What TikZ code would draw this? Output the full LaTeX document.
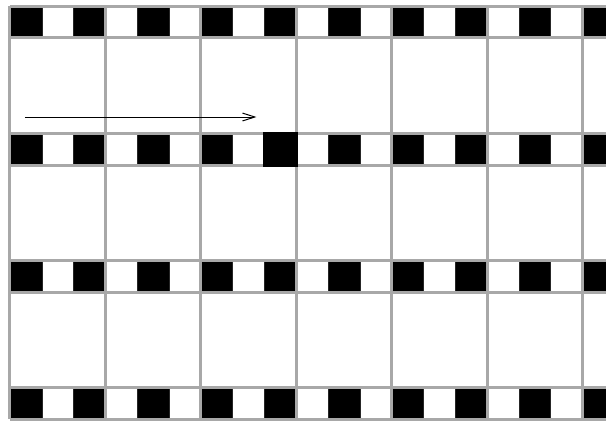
\documentclass[tikz,border=0pt]{standalone}
\usetikzlibrary{arrows.meta}
\definecolor{gridgray}{RGB}{168,168,168}
\begin{document}
\begin{tikzpicture}[x=1cm,y=1cm,
  gridline/.style={draw=gridgray,line width=2.7pt},
  blacksq/.style={fill=black,draw=black!85,line width=0.4pt},
  hilite/.style={fill=black,draw=black,line width=2.7pt},
  motion/.style={draw=black,line width=0.9pt,-{Straight Barb[length=11pt,width=7pt,line width=0.9pt]}}]
\useasboundingbox (-0.314,0.189) rectangle (18.74,-13.02);
\clip (-0.314,0.189) rectangle (18.74,-13.02);
% black squares in the bands
\foreach \y in {0,-4,-8,-12}{
  \foreach \k in {0,...,9}{
    \path[blacksq] (2*\k,\y) rectangle ++(1,-1);
  }
}
% grid lines
\foreach \x in {0,3,...,21}{
  \draw[gridline] (\x,0) -- (\x,-13);
}
\foreach \y in {0,-1,-4,-5,-8,-9,-12,-13}{
  \draw[gridline] (0,\y) -- (21,\y);
}
% highlighted square
\path[hilite] (8,-4) rectangle (9,-5);
% arrow
\coordinate (start) at (0.47,-3.49);
\coordinate (end) at (7.75,-3.49);
\draw[motion] (start) -- (end);
\end{tikzpicture}
\end{document}
